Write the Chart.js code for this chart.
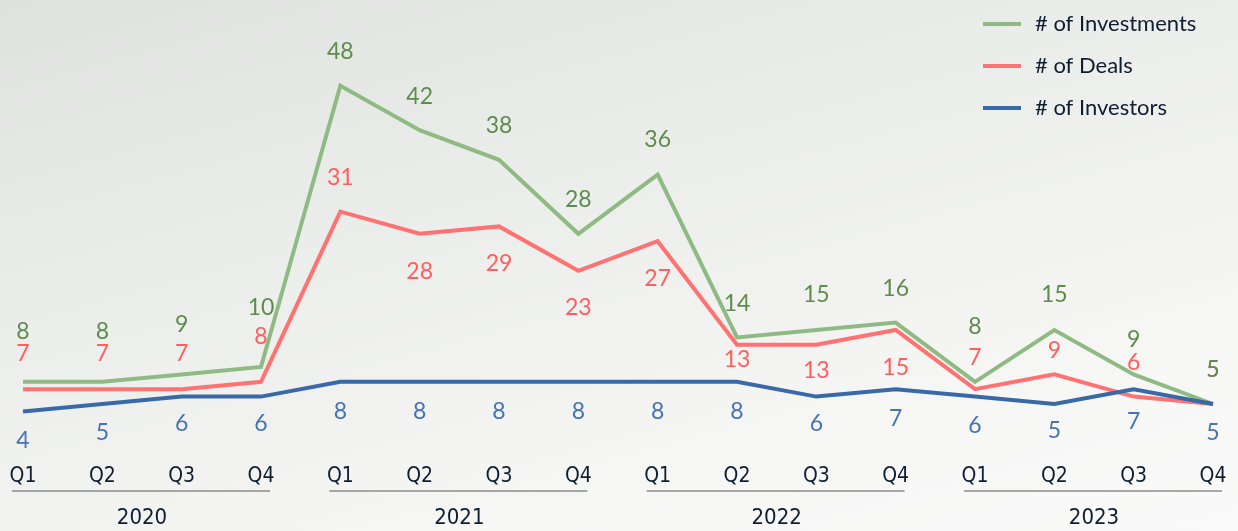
<!DOCTYPE html>
<html>
<head>
<meta charset="utf-8">
<script src="https://cdn.jsdelivr.net/npm/chart.js@4"></script>
<style>
  html, body { margin: 0; padding: 0; }
  body {
    width: 1238px; height: 531px; overflow: hidden;
    background: linear-gradient(165deg, #dee2dd 0%, #eceeeb 40%, #f6f6f5 75%, #fafafa 100%);
  }
  #wrap { position: relative; width: 1238px; height: 531px; }
</style>
</head>
<body>
<div id="wrap"><canvas id="trend"></canvas></div>
<script>
const quarters = ['Q1', 'Q2', 'Q3', 'Q4', 'Q1', 'Q2', 'Q3', 'Q4', 'Q1', 'Q2', 'Q3', 'Q4', 'Q1', 'Q2', 'Q3', 'Q4'];
const years = ['2020', '2021', '2022', '2023'];

const investments = [8, 8, 9, 10, 48, 42, 38, 28, 36, 14, 15, 16, 8, 15, 9, 5];
const deals       = [7, 7, 7, 8, 31, 28, 29, 23, 27, 13, 13, 15, 7, 9, 6, 5];
const investors   = [4, 5, 6, 6, 8, 8, 8, 8, 8, 8, 6, 7, 6, 5, 7, 5];

// where each value label sits relative to its point (px, negative = above)
const investmentsLabelShift = [-50, -50, -50, -59, -34, -34, -34, -34, -35, -34, -35, -34, -55, -35, -35, -34];
const dealsLabelShift       = [-36, -36, -36, -45, -34, 38, 37, 37, 37, 15, 26, 38, -32, -24, -34, -34];
const investorsLabelShift   = [29, 29, 27, 27, 30, 30, 30, 30, 30, 30, 27, 29, 29, 27, 32, 29];

const labelFont = '23px Lato, "Open Sans", sans-serif';
const axisFont = '"Liberation Sans Narrow", "DejaVu Sans Condensed", "Open Sans", sans-serif';
const textDark = '#0f1d30';

const valueLabels = {
  id: 'valueLabels',
  afterDatasetsDraw(chart) {
    const ctx = chart.ctx;
    ctx.save();
    ctx.font = labelFont;
    ctx.textAlign = 'center';
    ctx.textBaseline = 'middle';
    // deals first so the shared last label ends up green on top
    [1, 0, 2].forEach(i => {
      const ds = chart.data.datasets[i];
      const meta = chart.getDatasetMeta(i);
      ctx.fillStyle = ds.labelColor;
      meta.data.forEach((pt, j) => {
        ctx.fillText(String(ds.data[j]), pt.x, pt.y + ds.labelShift[j]);
      });
    });
    ctx.restore();
  }
};

// year captions with a rule under each group of four quarters
const yearGroups = {
  id: 'yearGroups',
  afterDraw(chart) {
    const ctx = chart.ctx;
    const x = chart.scales.x;
    ctx.save();
    years.forEach((yr, g) => {
      const x0 = x.getPixelForValue(g * 4);
      const x3 = x.getPixelForValue(g * 4 + 3);
      ctx.strokeStyle = '#8a8c8e';
      ctx.lineWidth = 1.5;
      ctx.beginPath();
      ctx.moveTo(x0 - 11, 491);
      ctx.lineTo(x3 + 9, 491);
      ctx.stroke();
      ctx.fillStyle = textDark;
      ctx.font = '22px ' + axisFont;
      ctx.textAlign = 'center';
      ctx.textBaseline = 'middle';
      ctx.fillText(yr, (x0 + x3) / 2, 518);
    });
    ctx.restore();
  }
};

const sideLegend = {
  id: 'sideLegend',
  afterDraw(chart) {
    const ctx = chart.ctx;
    ctx.save();
    ctx.font = '22px Lato, "Open Sans", sans-serif';
    ctx.textBaseline = 'middle';
    chart.data.datasets.forEach((ds, i) => {
      const y = 24 + i * 42;
      ctx.strokeStyle = ds.borderColor;
      ctx.lineWidth = 4;
      ctx.beginPath();
      ctx.moveTo(983, y);
      ctx.lineTo(1021, y);
      ctx.stroke();
      ctx.fillStyle = textDark;
      ctx.fillText(ds.label, 1035, y);
    });
    ctx.restore();
  }
};

new Chart(document.getElementById('trend'), {
  type: 'line',
  data: {
    labels: quarters,
    datasets: [
      { label: '# of Investments', data: investments, borderColor: '#8fba83', labelColor: '#5d8c4c', labelShift: investmentsLabelShift, order: 3 },
      { label: '# of Deals', data: deals, borderColor: '#ff7272', labelColor: '#ff5e5e', labelShift: dealsLabelShift, order: 2 },
      { label: '# of Investors', data: investors, borderColor: '#3a69a7', labelColor: '#4673b3', labelShift: investorsLabelShift, order: 1 }
    ]
  },
  options: {
    responsive: true,
    maintainAspectRatio: false,
    animation: false,
    elements: {
      line: { borderWidth: 4, tension: 0, borderJoinStyle: 'miter' },
      point: { radius: 0, hoverRadius: 0 }
    },
    layout: { padding: { left: 23, right: 25, top: 34, bottom: 0 } },
    plugins: { legend: { display: false }, tooltip: { enabled: false } },
    scales: {
      x: {
        offset: false,
        grid: { display: false, drawTicks: false },
        border: { display: false },
        ticks: { color: textDark, font: { family: axisFont, size: 21 }, padding: 23, maxRotation: 0, autoSkip: false },
        afterFit(scale) {
          scale.height = 90;
          scale.paddingLeft = 0;
          scale.paddingRight = 0;
        }
      },
      y: { display: false, min: 0, max: 55 }
    }
  },
  plugins: [valueLabels, yearGroups, sideLegend]
});
</script>
</body>
</html>
